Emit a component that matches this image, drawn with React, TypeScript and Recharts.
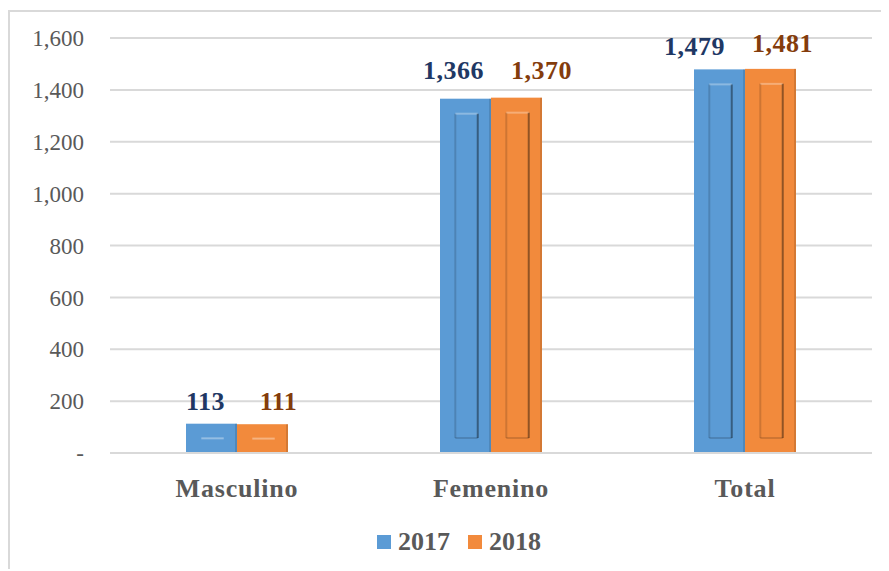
import { BarChart, Bar, XAxis, YAxis, CartesianGrid, Legend, LabelList } from "recharts";

const categories = ["Masculino", "Femenino", "Total"];
const values2017 = [113, 1366, 1479];
const values2018 = [111, 1370, 1481];
const yTicks = [0, 200, 400, 600, 800, 1000, 1200, 1400, 1600];

// label nudges per category (the source moves labels apart so they don't overlap)
const nudge2017 = [{ dx: -6, gap: 14 }, { dx: -12, gap: 20 }, { dx: -25, gap: 14 }];
const nudge2018 = [{ dx: 16, gap: 14 }, { dx: 25, gap: 19 }, { dx: 12, gap: 17 }];

const data = categories.map((c, i) => ({ name: c, y2017: values2017[i], y2018: values2018[i] }));

const BLUE = "#5b9bd5";
const ORANGE = "#f28a3c";
const SERIF = "'Liberation Serif', 'Times New Roman', serif";

// bar with an inner bevel outline, like the office "3d" preset
function BevelBar(props: any) {
  const { x, y, width, height, fill } = props;
  if (!height || height <= 0) return null;
  const ix1 = x + width * 0.3;
  const ix2 = x + width * 0.74;
  const iy1 = y + 15;
  const iy2 = y + height - 15;
  return (
    <g>
      <rect x={x} y={y} width={width} height={height} fill={fill} />
      <rect x={x + width - 2} y={y} width={2} height={height} fill="rgba(0,0,0,0.12)" />
      {iy2 - iy1 > 4 ? (
        <g>
          <line x1={ix1} y1={iy1} x2={ix2} y2={iy1} stroke="rgba(255,255,255,0.3)" strokeWidth={2} />
          <line x1={ix1} y1={iy1} x2={ix1} y2={iy2} stroke="rgba(0,0,0,0.15)" strokeWidth={2} />
          <line x1={ix2} y1={iy1} x2={ix2} y2={iy2} stroke="rgba(0,0,0,0.4)" strokeWidth={2} />
          <line x1={ix1} y1={iy2} x2={ix2} y2={iy2} stroke="rgba(0,0,0,0.15)" strokeWidth={2} />
        </g>
      ) : (
        <line x1={ix1} y1={y + height / 2} x2={ix2} y2={y + height / 2} stroke="rgba(255,255,255,0.35)" strokeWidth={2} />
      )}
    </g>
  );
}

const fmt = (v: number) => (v === 0 ? "-" : v.toLocaleString("en-US"));

function makeLabel(color: string, nudges: { dx: number; gap: number }[]) {
  return (props: any) => {
    const { x, y, width, value, index } = props;
    const n = nudges[index] || { dx: 0, gap: 14 };
    return (
      <text
        x={x + width / 2 + n.dx}
        y={y - n.gap}
        textAnchor="middle"
        fill={color}
        style={{ fontSize: 26, fontWeight: "bold", fontFamily: SERIF, letterSpacing: 0.5 }}
      >
        {Number(value).toLocaleString("en-US")}
      </text>
    );
  };
}

function LegendContent() {
  const items = [
    { label: "2017", color: BLUE },
    { label: "2018", color: ORANGE },
  ];
  return (
    <div style={{ display: "flex", justifyContent: "center", height: 30, alignItems: "center", paddingLeft: 36 }}>
      {items.map((it) => (
        <div key={it.label} style={{ display: "flex", alignItems: "center", margin: "0 9px" }}>
          <span style={{ display: "inline-block", width: 14, height: 14, background: it.color, marginRight: 7 }} />
          <span style={{ fontFamily: SERIF, fontWeight: "bold", fontSize: 26, color: "#595959" }}>{it.label}</span>
        </div>
      ))}
    </div>
  );
}

export default function App() {
  return (
    <div
      style={{
        position: "relative",
        top: 2,
        width: 881,
        height: 561,
        borderTop: "2px solid #d9d9d9",
        borderLeft: "2px solid #d9d9d9",
        boxSizing: "border-box",
        background: "#fff",
      }}
    >
      <BarChart
        width={879}
        height={559}
        data={data}
        margin={{ top: 26, right: 17, bottom: 14, left: 0 }}
        barGap={0}
        barSize={51}
      >
        <CartesianGrid vertical={false} stroke="#d9d9d9" strokeWidth={2} />
        <YAxis
          width={100}
          domain={[0, 1600]}
          ticks={yTicks}
          tickFormatter={fmt}
          axisLine={false}
          tickLine={false}
          tickSize={0}
          tickMargin={26}
          tick={{ fill: "#595959", fontSize: 23, fontFamily: SERIF }}
          interval={0}
        />
        <XAxis
          dataKey="name"
          height={74}
          axisLine={{ stroke: "#d9d9d9", strokeWidth: 2 }}
          tickLine={false}
          tickSize={0}
          tickMargin={26}
          tick={{ fill: "#595959", fontSize: 26, fontWeight: "bold", fontFamily: SERIF, letterSpacing: 0.8 }}
        />
        <Legend verticalAlign="bottom" height={30} content={<LegendContent />} />
        <Bar dataKey="y2017" name="2017" fill={BLUE} shape={<BevelBar />} isAnimationActive={false}>
          <LabelList dataKey="y2017" content={makeLabel("#1f3864", nudge2017)} />
        </Bar>
        <Bar dataKey="y2018" name="2018" fill={ORANGE} shape={<BevelBar />} isAnimationActive={false}>
          <LabelList dataKey="y2018" content={makeLabel("#843c0c", nudge2018)} />
        </Bar>
      </BarChart>
    </div>
  );
}
